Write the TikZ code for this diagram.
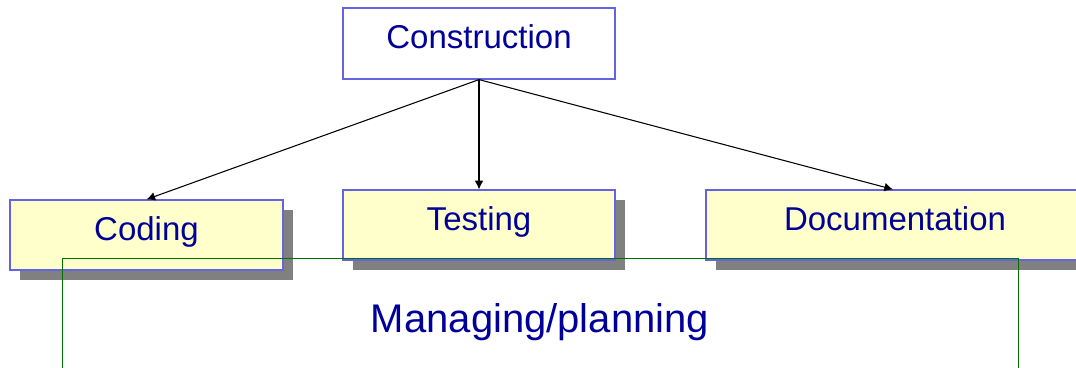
\documentclass[tikz,border=0pt]{standalone}
\usepackage{fontspec}
\setmainfont{Liberation Sans}
\usepackage{xcolor}
\usepackage{tikz}
\usetikzlibrary{positioning,arrows.meta,shadows}

\definecolor{textblue}{RGB}{0,0,153}
\definecolor{boxblue}{RGB}{100,100,225}
\definecolor{boxfill}{RGB}{255,255,204}
\definecolor{shadegray}{RGB}{128,128,128}
\definecolor{planetgreen}{RGB}{0,112,0}

\begin{document}
\begin{tikzpicture}[
  x=0.75pt, y=-0.75pt,
  >={Latex[length=6.5pt,width=6.5pt]},
  boxtext/.style={font=\fontsize{24.75}{30}\selectfont, text=textblue, text height=12.5pt, text depth=4.3pt},
  phase/.style={boxtext, draw=boxblue, line width=0.9pt, fill=white, inner sep=0pt,
    minimum width=204pt, minimum height=53.25pt},
  task/.style={boxtext, draw=boxblue, line width=0.9pt, fill=boxfill, inner sep=0pt,
    minimum height=52.5pt, drop shadow={shadow xshift=7.5pt, shadow yshift=-7.5pt,
      fill=shadegray, opacity=1}}
]
  \useasboundingbox (0,0) rectangle (1076,368);

  \node (construction) [phase] at (479,43.5) {Construction};

  % the three tasks
  \node (coding) [task, minimum width=204.75pt] at (146.5,235) {Coding};
  \node (testing) [task, minimum width=204pt] at (479,225) {Testing};
  \node (documentation) [task, minimum width=283.5pt] at (895,225) {Documentation};

  \draw[->, line width=0.8pt] (construction.south) -- (coding.north);
  \draw[->, line width=0.8pt] (construction.south) -- (testing.north);
  \draw[->, line width=0.8pt] (construction.south) -- ([xshift=-1.5pt]documentation.north);

  % managing frame, open below the page
  \node (managing) [draw=planetgreen, line width=0.8pt, inner sep=0pt, anchor=north west,
    minimum width=717pt, minimum height=105pt] at (62,258) {};
  \node (managing-text) [anchor=base, font=\fontsize{30}{36}\selectfont, text=textblue] at (540,332.3) {Managing/planning};
\end{tikzpicture}
\end{document}
